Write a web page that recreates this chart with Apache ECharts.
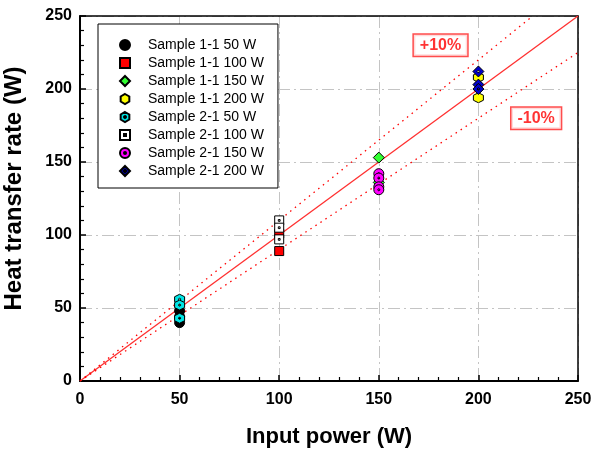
<!DOCTYPE html>
<html>
<head>
<meta charset="utf-8">
<script src="https://cdn.jsdelivr.net/npm/echarts@6/dist/echarts.min.js"></script>
<style>
  html, body { margin: 0; padding: 0; background: #fff; }
  #chart { width: 596px; height: 450px; }
</style>
</head>
<body>
<div id="chart"></div>
<script>
// measured values, [input power, heat transfer rate]
var s11_50 = [[50, 48], [50, 44], [50, 40]];
var s11_100 = [[100, 101], [100, 89]];
var s11_150 = [[150, 153], [150, 136]];
var s11_200 = [[200, 208], [200, 194]];
var s21_50 = [[50, 56], [50, 52], [50, 43]];
var s21_100 = [[100, 110], [100, 105], [100, 97]];
var s21_150 = [[150, 142], [150, 139], [150, 133], [150, 131]];
var s21_200 = [[200, 212], [200, 203], [200, 200]];

// reference lines (1:1 and +/-10 %)
var lineEqual = [[0, 0], [250, 250]];
var linePlus10 = [[0, 0], [227.3, 250]];
var lineMinus10 = [[0, 0], [250, 225]];
// annotation anchors
var plusLabelAt = [[181, 230]];
var minusLabelAt = [[229, 180]];

var xTicks = [0, 50, 100, 150, 200, 250];
var yTicks = [0, 50, 100, 150, 200, 250];

var font = 'Arial, "Liberation Sans", sans-serif';

// marker shapes, the inner reversed path leaves a hole that the border fills as a dot
var square = 'path://M-10 -10 L10 -10 L10 10 L-10 10 Z';
var diamond = 'path://M0 -10 L10 0 L0 10 L-10 0 Z';
var hexagon = 'path://M0 -10 L8.66 -5 L8.66 5 L0 10 L-8.66 5 L-8.66 -5 Z';
var hexDot = 'path://M0 -10 L8.66 -5 L8.66 5 L0 10 L-8.66 5 L-8.66 -5 Z M0 -2 L-1.73 -1 L-1.73 1 L0 2 L1.73 1 L1.73 -1 Z';
var squareDot = 'path://M-10 -10 L10 -10 L10 10 L-10 10 Z M-2 -2 L-2 2 L2 2 L2 -2 Z';
var circleDot = 'path://M0 -10 A10 10 0 1 1 0 10 A10 10 0 1 1 0 -10 Z M0 -2 A2 2 0 1 0 0 2 A2 2 0 1 0 0 -2 Z';
var diamondDot = 'path://M0 -10 L10 0 L0 10 L-10 0 Z M0 -2.5 L-2.5 0 L0 2.5 L2.5 0 Z';

function pts(name, data, symbol, size, color) {
  return {
    name: name, type: 'scatter', data: data,
    symbol: symbol, symbolSize: size, z: 5,
    itemStyle: { color: color, borderColor: '#000', borderWidth: 1, opacity: 1 }
  };
}

function refLine(data, color, type) {
  return {
    type: 'line', data: data, symbol: 'none', silent: true, z: 3,
    lineStyle: { color: color, width: 1.3, type: type }
  };
}

function tag(data, text) {
  return {
    type: 'scatter', data: data, symbolSize: 0, silent: true, z: 6,
    label: {
      show: true, position: 'inside', formatter: text,
      fontFamily: font, fontSize: 16, fontWeight: 'bold', color: '#ff0000',
      backgroundColor: '#fff', borderColor: '#ff2020', borderWidth: 1.5,
      padding: [3, 6, 2, 6]
    }
  };
}

var names = ['Sample 1-1 50 W', 'Sample 1-1 100 W', 'Sample 1-1 150 W', 'Sample 1-1 200 W',
  'Sample 2-1 50 W', 'Sample 2-1 100 W', 'Sample 2-1 150 W', 'Sample 2-1 200 W'];

var gridLine = { show: true, lineStyle: { color: '#c4c4c4', width: 1, type: [12, 4, 2, 4] } };

var chart = echarts.init(document.getElementById('chart'));
chart.setOption({
  animation: false,
  backgroundColor: '#fff',
  grid: { left: 80, right: 18, top: 16, bottom: 69, outerBoundsMode: 'none' },
  legend: {
    orient: 'vertical', left: 98, top: 24,
    padding: [14, 14, 10, 21],
    itemWidth: 36, itemHeight: 10, itemGap: 4,
    borderColor: '#000', borderWidth: 1, backgroundColor: '#fff',
    textStyle: { fontFamily: font, fontSize: 14, lineHeight: 14, color: '#000' },
    data: names
  },
  xAxis: [{
    type: 'value', min: xTicks[0], max: xTicks[xTicks.length - 1], interval: 50,
    name: 'Input power (W)', nameLocation: 'middle', nameGap: 45,
    nameTextStyle: { fontFamily: font, fontSize: 22, fontWeight: 'bold', color: '#000' },
    axisLine: { lineStyle: { color: '#000', width: 2 } },
    axisTick: { inside: true, length: 6, lineStyle: { color: '#000', width: 1.5 } },
    minorTick: { show: true, splitNumber: 5, length: 4, lineStyle: { color: '#000', width: 1.2 } },
    axisLabel: { margin: 11, fontFamily: font, fontSize: 16, fontWeight: 'bold', color: '#000' },
    splitLine: gridLine
  }, {
    type: 'value', position: 'top', min: 0, max: 250,
    axisLine: { show: true, onZero: false, lineStyle: { color: '#000', width: 1.5 } },
    axisTick: { show: false }, axisLabel: { show: false }, splitLine: { show: false }
  }],
  yAxis: [{
    type: 'value', min: yTicks[0], max: yTicks[yTicks.length - 1], interval: 50,
    name: 'Heat transfer rate (W)', nameLocation: 'middle', nameGap: 54, nameRotate: 90,
    nameTextStyle: { fontFamily: font, fontSize: 24, fontWeight: 'bold', color: '#000', padding: [0, 0, 0, 20] },
    axisLine: { show: true, lineStyle: { color: '#000', width: 2 } },
    axisTick: { show: true, inside: true, length: 6, lineStyle: { color: '#000', width: 1.5 } },
    minorTick: { show: true, splitNumber: 5, length: 4, lineStyle: { color: '#000', width: 1.2 } },
    axisLabel: { margin: 8, fontFamily: font, fontSize: 16, fontWeight: 'bold', color: '#000' },
    splitLine: gridLine
  }, {
    type: 'value', position: 'right', min: 0, max: 250,
    axisLine: { show: true, onZero: false, lineStyle: { color: '#000', width: 1.5 } },
    axisTick: { show: false }, axisLabel: { show: false }, splitLine: { show: false }
  }],
  series: [
    refLine(lineEqual, '#ff3030', 'solid'),
    refLine(linePlus10, '#ff0000', [1.5, 4.5]),
    refLine(lineMinus10, '#ff0000', [1.5, 4.5]),
    pts(names[0], s11_50, 'circle', 10, '#000000'),
    pts(names[1], s11_100, square, 9, '#ff0000'),
    pts(names[2], s11_150, diamond, 11, '#33ff33'),
    pts(names[3], s11_200, hexagon, 10, '#ffff00'),
    pts(names[4], s21_50, hexDot, 10, '#00e5e5'),
    pts(names[5], s21_100, squareDot, 9, '#ffffff'),
    pts(names[6], s21_150, circleDot, 10, '#ff00ff'),
    pts(names[7], s21_200, diamondDot, 11, '#0000cc'),
    tag(plusLabelAt, '+10%'),
    tag(minusLabelAt, '-10%')
  ]
});
</script>
</body>
</html>
